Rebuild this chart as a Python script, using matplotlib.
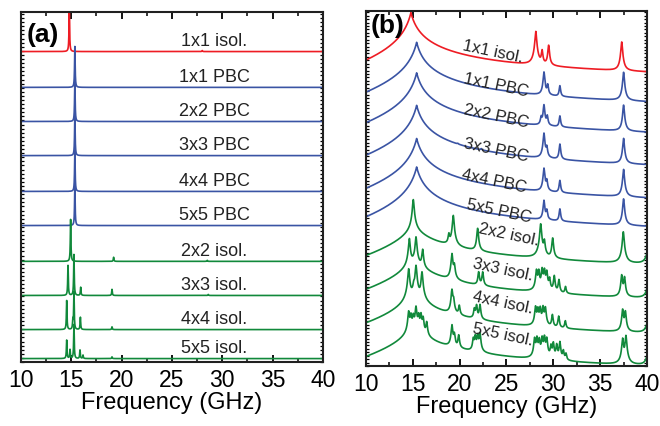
import matplotlib

matplotlib.use("Agg")

import matplotlib.pyplot as plt
import numpy as np
from matplotlib.ticker import MultipleLocator, NullFormatter

plt.rcParams["font.family"] = ["Liberation Sans", "DejaVu Sans"]

RED = "#ee1c24"
BLUE = "#3a54a4"
GREEN = "#11893b"

LABELS = ["1x1 isol.", "1x1 PBC", "2x2 PBC", "3x3 PBC", "4x4 PBC", "5x5 PBC",
          "2x2 isol.", "3x3 isol.", "4x4 isol.", "5x5 isol."]
COLORS = [RED] + [BLUE] * 5 + [GREEN] * 4

# panel (a): linear spectra, baseline offsets and (frequency GHz, height) of each line
A_OFFSETS = [9.1, 8.05, 7.05, 6.05, 5.0, 4.0, 2.95, 1.95, 0.95, 0.1]
A_PEAKS = [
    [(14.8, 1.35), (28.0, 0.03)],
    [(15.35, 1.2)],
    [(15.35, 1.2)],
    [(15.35, 1.2)],
    [(15.35, 1.2)],
    [(15.35, 1.2)],
    [(14.93, 1.23), (19.2, 0.12), (28.5, 0.03)],
    [(14.67, 0.88), (15.26, 1.2), (15.93, 0.24), (19.04, 0.18), (28.6, 0.03)],
    [(14.54, 0.85), (15.15, 0.25), (15.26, 1.1), (15.9, 0.36), (19.04, 0.08)],
    [(14.54, 0.54), (14.87, 0.26), (15.26, 1.0), (15.86, 0.25), (16.16, 0.1), (19.04, 0.05)],
]

# panel (b): log spectra (decades), offset, broad background and narrow lines
B_OFFSETS = [17.49, 16.02, 14.51, 12.9, 11.26, 9.85, 8.12, 6.43, 4.7, 3.09]
B_BG_CENTER = [14.8, 15.41, 15.41, 15.41, 15.41, 15.41, 15.1, 15.1, 15.1, 15.1]
B_BG_LEVEL = [0.0, 0.0, 0.0, 0.0, 0.0, 0.0, -1.3, -1.3, -1.3, -1.3]
B_BG_WIDTH = [0.456, 0.456, 0.456, 0.456, 0.456, 0.456, 1.8, 1.8, 1.8, 1.8]
B_TILT = 1.32
B_PEAKS = [
    [(28.13, -0.94), (28.8, -1.96), (29.5, -1.66), (37.3, -1.47)],
    [(29.0, -1.5), (29.4, -2.25), (30.7, -2.3), (37.5, -1.5)],
    [(28.7, -2.4), (29.0, -1.62), (29.35, -2.3), (30.7, -2.28), (37.5, -1.62)],
    [(19.8, -3.0), (22.3, -3.0), (29.0, -1.4), (29.3, -2.2), (30.7, -2.0), (37.5, -1.66)],
    [(29.0, -1.5), (29.3, -2.2), (30.7, -2.2), (37.5, -1.55)],
    [(29.0, -1.7), (29.3, -2.3), (30.7, -2.2), (37.5, -1.6)],
    [(15.05, 0.1), (18.85, -1.75), (19.32, -0.68), (21.92, -1.34), (28.65, -1.09),
     (29.04, -1.98), (29.93, -1.83), (37.47, -1.49), (40.25, -1.5)],
    [(14.63, -0.14), (15.34, -0.06), (16.05, -0.72), (19.18, -0.89), (19.43, -1.5),
     (22.03, -1.88), (22.46, -1.88), (28.2, -1.71), (28.45, -1.73), (28.8, -1.63),
     (29.05, -1.68), (29.3, -1.78), (29.6, -2.2), (30.1, -2.03), (30.6, -2.27),
     (31.3, -2.77), (37.3, -1.96), (37.6, -2.07), (40.25, -1.6)],
    [(14.56, 0.1), (15.1, -0.9), (15.34, 0.27), (15.98, -0.06), (19.18, -0.94),
     (19.35, -1.5), (19.96, -1.88), (21.57, -2.03), (21.8, -1.78), (22.17, -1.75),
     (28.1, -1.8), (28.35, -1.9), (28.6, -1.85), (28.9, -1.8), (29.15, -1.85),
     (29.9, -2.28), (30.57, -2.37), (31.28, -2.7), (37.4, -1.93), (37.69, -2.03),
     (40.25, -1.6)],
    [(14.56, -0.42), (14.8, -0.6), (15.05, -0.67), (15.34, -0.17), (15.62, -0.6),
     (15.87, -0.55), (16.1, -0.76), (16.48, -1.01), (19.18, -1.09), (19.43, -1.6),
     (19.9, -1.67), (21.46, -1.84), (21.67, -1.67), (21.92, -1.6), (22.17, -1.51),
     (28.0, -1.75), (28.25, -1.7), (28.5, -1.8), (28.8, -1.7), (29.05, -1.65),
     (29.3, -1.75), (29.75, -2.17), (30.0, -2.0), (30.36, -2.1), (30.7, -1.95),
     (31.07, -2.5), (31.35, -2.75), (37.4, -1.75), (37.75, -1.6), (40.25, -1.6)],
]

B_LABEL_X = [23.5, 23.9, 23.9, 23.9, 23.7, 24.2, 25.3, 24.6, 24.6, 24.6]
B_LABEL_Y = [15.6, 13.96, 12.39, 10.74, 9.17, 7.69, 6.53, 4.8, 3.15, 1.58]

freq = np.linspace(10, 40.5, 6101)


def lorentz(f, f0, width):
    return 1.0 / (1.0 + ((f - f0) / width) ** 2)


def cusp(f, f0, width):
    # same far tail as a Lorentzian, but a sharp top
    return 1.0 / (1.0 + np.abs(f - f0) / width) ** 2


def style_axes(ax, ystep):
    ax.set_xlim(10, 40)
    ax.xaxis.set_major_locator(MultipleLocator(5))
    ax.xaxis.set_minor_locator(MultipleLocator(2.5))
    ax.yaxis.set_major_locator(MultipleLocator(ystep))
    ax.yaxis.set_major_formatter(NullFormatter())
    ax.tick_params(axis="x", which="major", direction="in", length=5, width=1.3,
                   top=True, labelsize=16.5, pad=4)
    ax.tick_params(axis="x", which="minor", direction="in", length=3, width=1.1, top=True)
    ax.tick_params(axis="y", which="major", direction="in", length=2, width=0.9,
                   right=True, left=True)
    for sp in ax.spines.values():
        sp.set_linewidth(1.5)
        sp.set_color("#202020")
    ax.set_xlabel("Frequency (GHz)", fontsize=17, labelpad=0)


fig = plt.figure(figsize=(6.6, 4.27), dpi=100)
ax_a = fig.add_axes([0.0318, 0.1499, 0.4576, 0.8197])
ax_b = fig.add_axes([0.5545, 0.1405, 0.4258, 0.8314])

# (a)
for label, color, off, peaks in zip(LABELS, COLORS, A_OFFSETS, A_PEAKS):
    y = np.zeros_like(freq)
    for f0, h in peaks:
        y += h * lorentz(freq, f0, 0.035)
    ax_a.plot(freq, off + y, color=color, lw=1.2)
    ax_a.text(29.2, off + 0.33, label, fontsize=13, ha="center", va="center", color="#222222")
ax_a.set_ylim(0, 10.26)
style_axes(ax_a, 0.12)
ax_a.text(0.019, 0.937, "(a)", transform=ax_a.transAxes, fontsize=19,
          fontweight="bold", ha="left", va="center")

# (b)
for i, (label, color) in enumerate(zip(LABELS, COLORS)):
    c = B_BG_CENTER[i]
    w = B_BG_WIDTH[i]
    v = 10 ** B_BG_LEVEL[i] * cusp(freq, c, w) * (freq / c) ** B_TILT
    for f0, h in B_PEAKS[i]:
        v += 10 ** h * lorentz(freq, f0, 0.07)
    ax_b.plot(freq, B_OFFSETS[i] + np.log10(v), color=color, lw=1.2)
    ax_b.text(B_LABEL_X[i], B_LABEL_Y[i], label, fontsize=12, rotation=-12,
              ha="center", va="center", color="#222222", rotation_mode="anchor")
ax_b.set_ylim(0, 17.57)
style_axes(ax_b, 0.17)
ax_b.text(0.018, 0.96, "(b)", transform=ax_b.transAxes, fontsize=19,
          fontweight="bold", ha="left", va="center")

fig.savefig("out.png", dpi=100)
